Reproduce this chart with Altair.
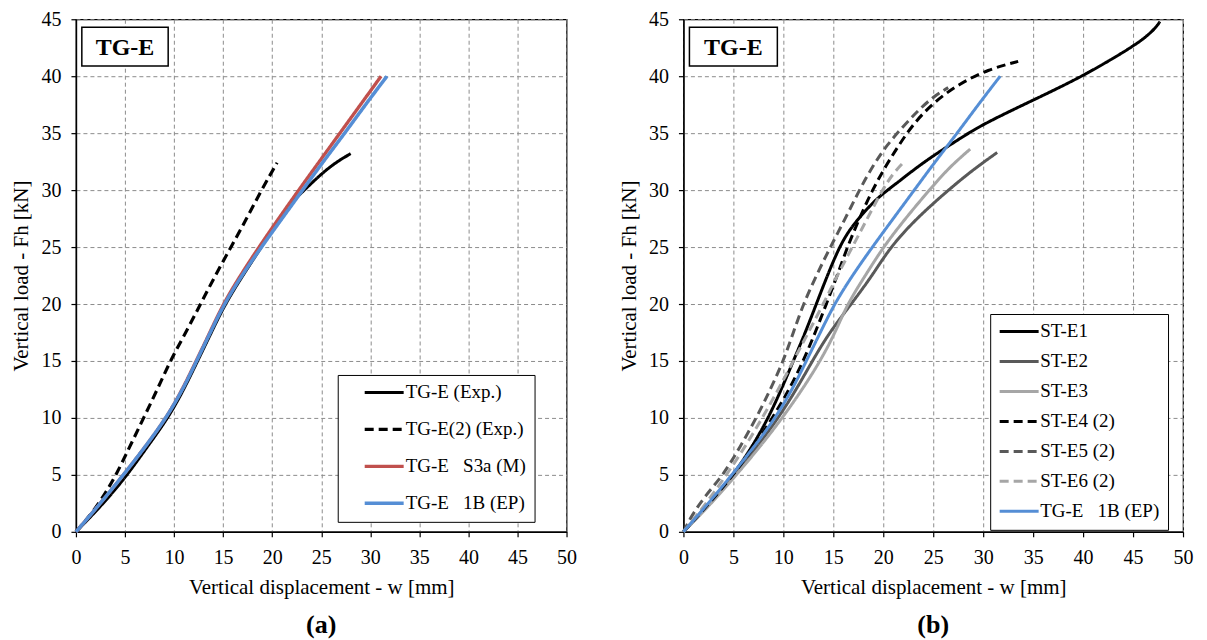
import altair as alt
import pandas as pd

# ---------------- Panel (a) data ----------------
A_SERIES = ["TG-E (Exp.)", "TG-E(2) (Exp.)",
            "TG-E\u00a0\u00a0\u00a0S3a (M)", "TG-E\u00a0\u00a0\u00a01B (EP)"]

A1_X = [0, 2.5, 5.0, 7.3, 9.4, 11.0, 12.4, 13.8, 15.2, 17.0, 18.9, 20.4, 21.8, 23.4, 25.1, 26.6, 28.0]
A1_Y = [0, 2.2, 4.7, 7.5, 10.0, 12.5, 15.0, 17.5, 20.0, 22.5, 25.0, 27.0, 28.8, 30.1, 31.5, 32.5, 33.2]

A2_X = [0, 1.7, 3.0, 4.1, 5.5, 6.9, 8.3, 9.6, 11.2, 12.7, 14.2, 15.8, 17.4, 18.9, 20.5]
A2_Y = [0, 1.7, 3.4, 5.0, 7.5, 10.0, 12.5, 15.0, 17.5, 20.0, 22.5, 25.0, 27.5, 30.0, 32.4]

A3_X = [0, 2.4, 4.85, 7.1, 9.2, 10.85, 12.25, 13.65, 15.0, 16.75, 18.65, 20.65, 22.7, 24.8, 26.9, 29.0, 31.1]
A3_Y = [0, 2.4, 5.0, 7.5, 10.0, 12.5, 15.0, 17.5, 20.0, 22.5, 25.0, 27.5, 30.0, 32.5, 35.0, 37.5, 40.0]

EP_X = [0, 2.4, 4.85, 7.1, 9.2, 10.9, 12.3, 13.7, 15.1, 16.9, 18.9, 21.0, 23.1, 25.2, 27.4, 29.5, 31.7]
EP_Y = [0, 2.4, 5.0, 7.5, 10.0, 12.5, 15.0, 17.5, 20.0, 22.5, 25.0, 27.5, 30.0, 32.5, 35.0, 37.5, 40.0]

# ---------------- Panel (b) data ----------------
B_SERIES = ["ST-E1", "ST-E2", "ST-E3", "ST-E4 (2)", "ST-E5 (2)", "ST-E6 (2)",
            "TG-E\u00a0\u00a0\u00a01B (EP)"]

B1_X = [0, 2.5, 5.0, 6.9, 8.5, 9.8, 11.0, 12.2, 13.3, 14.4, 15.6, 16.6, 17.9, 19.5, 21.2, 23.5, 25.5,
        27.8, 30.0, 35.0, 40.0, 45.0, 46.5, 47.3, 47.7]
B1_Y = [0, 2.4, 5.0, 7.5, 10.0, 12.5, 15.0, 17.5, 20.0, 22.5, 25.0, 26.5, 27.9, 29.4, 30.5, 32.1, 33.3,
        34.6, 35.8, 37.9, 40.0, 42.6, 43.6, 44.3, 44.8]

B2_X = [0, 2.5, 5.1, 7.4, 9.5, 11.3, 12.9, 14.6, 16.8, 18.9, 20.7, 23.3, 26.5, 29.0, 31.4]
B2_Y = [0, 2.3, 5.0, 7.5, 10.0, 12.5, 15.0, 17.5, 20.0, 22.5, 25.0, 27.5, 30.0, 31.8, 33.3]

B3_X = [0, 2.6, 5.3, 7.7, 9.9, 11.9, 13.7, 15.2, 16.4, 18.2, 20.0, 22.2, 24.6, 26.6, 28.7]
B3_Y = [0, 2.3, 5.0, 7.5, 10.0, 12.5, 15.0, 17.5, 20.0, 22.5, 25.0, 27.5, 30.0, 32.0, 33.6]

B4_X = [0, 2.5, 5.0, 7.1, 8.9, 10.6, 12.0, 13.2, 14.3, 15.4, 16.4, 17.6, 18.9, 20.3, 21.6, 23.0, 24.9,
        27.5, 30.5, 33.5]
B4_Y = [0, 2.4, 5.0, 7.5, 10.0, 12.5, 15.0, 17.5, 20.0, 22.5, 25.0, 27.5, 30.0, 32.2, 34.0, 35.8, 37.6,
        39.3, 40.6, 41.3]

B5_X = [0, 0.8, 2.2, 4.0, 5.7, 7.3, 8.7, 10.0, 11.0, 12.0, 13.3, 14.7, 16.2, 17.6, 19.0, 20.4, 22.0,
        23.5, 25.0, 26.5]
B5_Y = [0, 1.4, 3.2, 5.0, 7.5, 10.0, 12.5, 15.0, 17.5, 20.0, 22.5, 25.0, 27.5, 30.0, 32.2, 34.0, 35.6,
        37.0, 38.2, 39.0]

B6_X = [0, 2.3, 4.3, 6.2, 7.9, 9.5, 11.0, 12.5, 14.0, 15.4, 16.9, 18.4, 19.9, 21.0, 22.1]
B6_Y = [0, 2.5, 5.0, 7.5, 10.0, 12.5, 15.0, 17.5, 20.0, 22.5, 25.0, 27.5, 30.0, 31.5, 32.5]

# ---------------- styling lists ----------------
A_COLORS = ["#000000", "#000000", "#C0504D", "#558ED5"]
A_DASHES = [[1, 0], [9, 5], [1, 0], [1, 0]]
A_WIDTHS = [3, 3.5, 3.5, 4]

B_COLORS = ["#000000", "#595959", "#A6A6A6", "#000000", "#595959", "#A6A6A6", "#558ED5"]
B_DASHES = [[1, 0], [1, 0], [1, 0], [9, 5], [9, 5], [9, 5], [1, 0]]
B_WIDTHS = [3, 3, 3, 3, 3, 3, 5]

X_TICKS = list(range(0, 51, 5))
Y_TICKS = list(range(0, 46, 5))

BOX_X = [0.6, 9.4]
BOX_Y = [40.9, 44.3]
BOX_LABEL = "TG-E"

FONT = "Liberation Serif"


def frame(names, xs, ys):
    rows = []
    for name, xv, yv in zip(names, xs, ys):
        for i, (a, b) in enumerate(zip(xv, yv)):
            rows.append({"series": name, "idx": i, "x": a, "y": b})
    return pd.DataFrame(rows)


AX_COMMON = dict(labelFont=FONT, labelFontSize=20, labelColor="black",
                 titleFont=FONT, titleFontSize=21, titleFontWeight="normal", titleColor="black",
                 grid=True, gridColor="#8c8c8c", gridDash=[4, 3], gridWidth=1,
                 tickColor="black", tickSize=5, tickWidth=1.2,
                 domainColor="black", domainWidth=1.5)


def panel(df, names, colors, dashes, widths, legend, title, width):
    xenc = alt.X("x:Q", scale=alt.Scale(domain=[0, 50], nice=False, zero=False),
                 axis=alt.Axis(values=X_TICKS, title="Vertical displacement - w [mm]",
                               labelPadding=11, titlePadding=9, labelFlush=False, **AX_COMMON))
    yenc = alt.Y("y:Q", scale=alt.Scale(domain=[0, 45], nice=False, zero=False),
                 axis=alt.Axis(values=Y_TICKS, title="Vertical load - Fh [kN]",
                               labelPadding=10, titlePadding=8, labelFlush=False,
                               minExtent=36, maxExtent=36, **AX_COMMON))
    lines = alt.Chart(df).mark_line(interpolate="basis", strokeCap="butt").encode(
        x=xenc, y=yenc,
        color=alt.Color("series:N", scale=alt.Scale(domain=names, range=colors), legend=legend),
        strokeDash=alt.StrokeDash("series:N", scale=alt.Scale(domain=names, range=dashes), legend=legend),
        strokeWidth=alt.StrokeWidth("series:N", scale=alt.Scale(domain=names, range=widths), legend=legend),
        order="idx:Q",
    )
    box_df = pd.DataFrame({"x0": [BOX_X[0]], "x1": [BOX_X[1]], "y0": [BOX_Y[0]], "y1": [BOX_Y[1]],
                           "xc": [sum(BOX_X) / 2], "yc": [sum(BOX_Y) / 2], "t": [BOX_LABEL]})
    box = alt.Chart(box_df).mark_rect(fill="white", stroke="black", strokeWidth=1.5).encode(
        x="x0:Q", x2="x1:Q", y="y0:Q", y2="y1:Q")
    txt = alt.Chart(box_df).mark_text(font=FONT, fontSize=24, fontWeight="bold",
                                      align="center", baseline="middle", dy=1).encode(
        x="xc:Q", y="yc:Q", text="t:N")
    return alt.layer(lines, box, txt).properties(
        width=width, height=513,
        title=alt.TitleParams(title, orient="bottom", font=FONT, fontSize=26, fontWeight="bold",
                              offset=14, anchor="middle", color="black"))


df_a = frame(A_SERIES, [A1_X, A2_X, A3_X, EP_X], [A1_Y, A2_Y, A3_Y, EP_Y])
df_b = frame(B_SERIES, [B1_X, B2_X, B3_X, B4_X, B5_X, B6_X, EP_X],
             [B1_Y, B2_Y, B3_Y, B4_Y, B5_Y, B6_Y, EP_Y])

LEG_COMMON = dict(title=None, orient="none", labelFont=FONT, labelFontSize=19, labelColor="black",
                  strokeColor="black", fillColor="white", padding=8,
                  symbolType="stroke", symbolSize=1521, labelLimit=300, clipHeight=19)
leg_a = alt.Legend(legendX=262, legendY=356, symbolOffset=17, labelOffset=0, rowPadding=17, **LEG_COMMON)
leg_b = alt.Legend(legendX=307, legendY=295, symbolOffset=0, labelOffset=0, rowPadding=10, **LEG_COMMON)

pa = panel(df_a, A_SERIES, A_COLORS, A_DASHES, A_WIDTHS, leg_a, "(a)", 491)
pb = panel(df_b, B_SERIES, B_COLORS, B_DASHES, B_WIDTHS, leg_b, "(b)", 500)

chart = alt.hconcat(pa, pb, spacing=40).resolve_scale(
    color="independent", strokeDash="independent", strokeWidth="independent"
).resolve_legend(
    color="independent", strokeDash="independent", strokeWidth="independent"
).properties(
    padding={"left": 2, "top": 0, "right": 5, "bottom": 0}
).configure_view(
    stroke="black", strokeWidth=1.2
).configure_axis(
    labelFont=FONT, labelFontSize=20, titleFont=FONT, titleFontSize=21
).configure_legend(
    labelFont=FONT, labelFontSize=19
)

chart.save("out.html", embed_options={"renderer": "svg", "actions": False})
